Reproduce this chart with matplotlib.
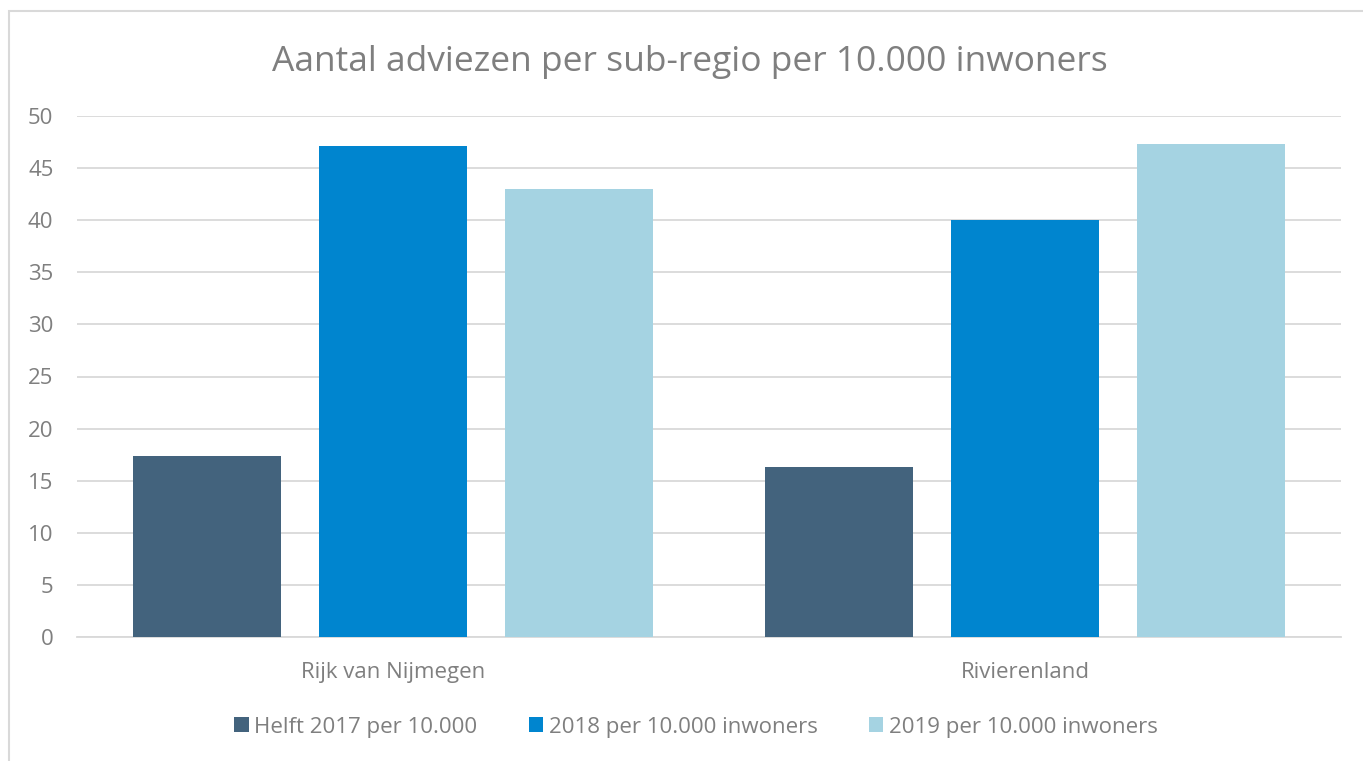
import numpy as np
import matplotlib.pyplot as plt
from matplotlib.patches import Rectangle

# Data
regions = ["Rijk van Nijmegen", "Rivierenland"]
series_names = ["Helft 2017 per 10.000", "2018 per 10.000 inwoners", "2019 per 10.000 inwoners"]
helft_2017 = [17.4, 16.3]
per_2018 = [47.1, 40.0]
per_2019 = [43.0, 47.3]
colors = ["#43637D", "#0085CF", "#A5D3E2"]

plt.rcParams["font.family"] = ["Open Sans", "DejaVu Sans"]
text_grey = "#7F7F7F"

fig = plt.figure(figsize=(13.63, 7.61), dpi=100)
W, H = 1363, 761

# Chart border
fig.patches.append(Rectangle((9 / W, -0.05), 1.1, 1 - 11 / H + 0.05,
                             transform=fig.transFigure, fill=False,
                             edgecolor="#D9D9D9", linewidth=1.5))

ax = fig.add_axes([77 / W, 1 - 637 / H, (1341 - 77) / W, (637 - 116) / H])

x = np.arange(len(regions))
bar_w = 148 / 632
step = 186 / 632
for i, (vals, name) in enumerate(zip([helft_2017, per_2018, per_2019], series_names)):
    ax.bar(x + (i - 1) * step, vals, width=bar_w, color=colors[i], label=name, zorder=3)

ax.set_xlim(-0.5, 1.5)
ax.set_ylim(0, 50)
ax.set_yticks(np.arange(0, 51, 5))
ax.yaxis.grid(True, color="#D9D9D9", linewidth=1.3, zorder=0)
ax.set_xticks(x)
ax.set_xticklabels(regions)
ax.tick_params(axis="both", length=0, labelsize=16, labelcolor=text_grey)
ax.tick_params(axis="x", pad=18)
ax.tick_params(axis="y", pad=17)
for s in ["top", "right", "left"]:
    ax.spines[s].set_visible(False)
ax.spines["bottom"].set_color("#D9D9D9")
ax.spines["bottom"].set_linewidth(1.3)

fig.text(690 / W, 1 - 62 / H, "Aantal adviezen per sub-regio per 10.000 inwoners",
         ha="center", va="center", fontsize=25.5, color=text_grey)

handles, labels = ax.get_legend_handles_labels()
fig.legend(handles, labels, loc="center", bbox_to_anchor=(696 / W, 1 - 727 / H),
           ncol=3, frameon=False, fontsize=16, labelcolor=text_grey,
           handlelength=0.65, handleheight=0.65, handletextpad=0.25, columnspacing=2.3)

fig.savefig("out.png", dpi=100)
